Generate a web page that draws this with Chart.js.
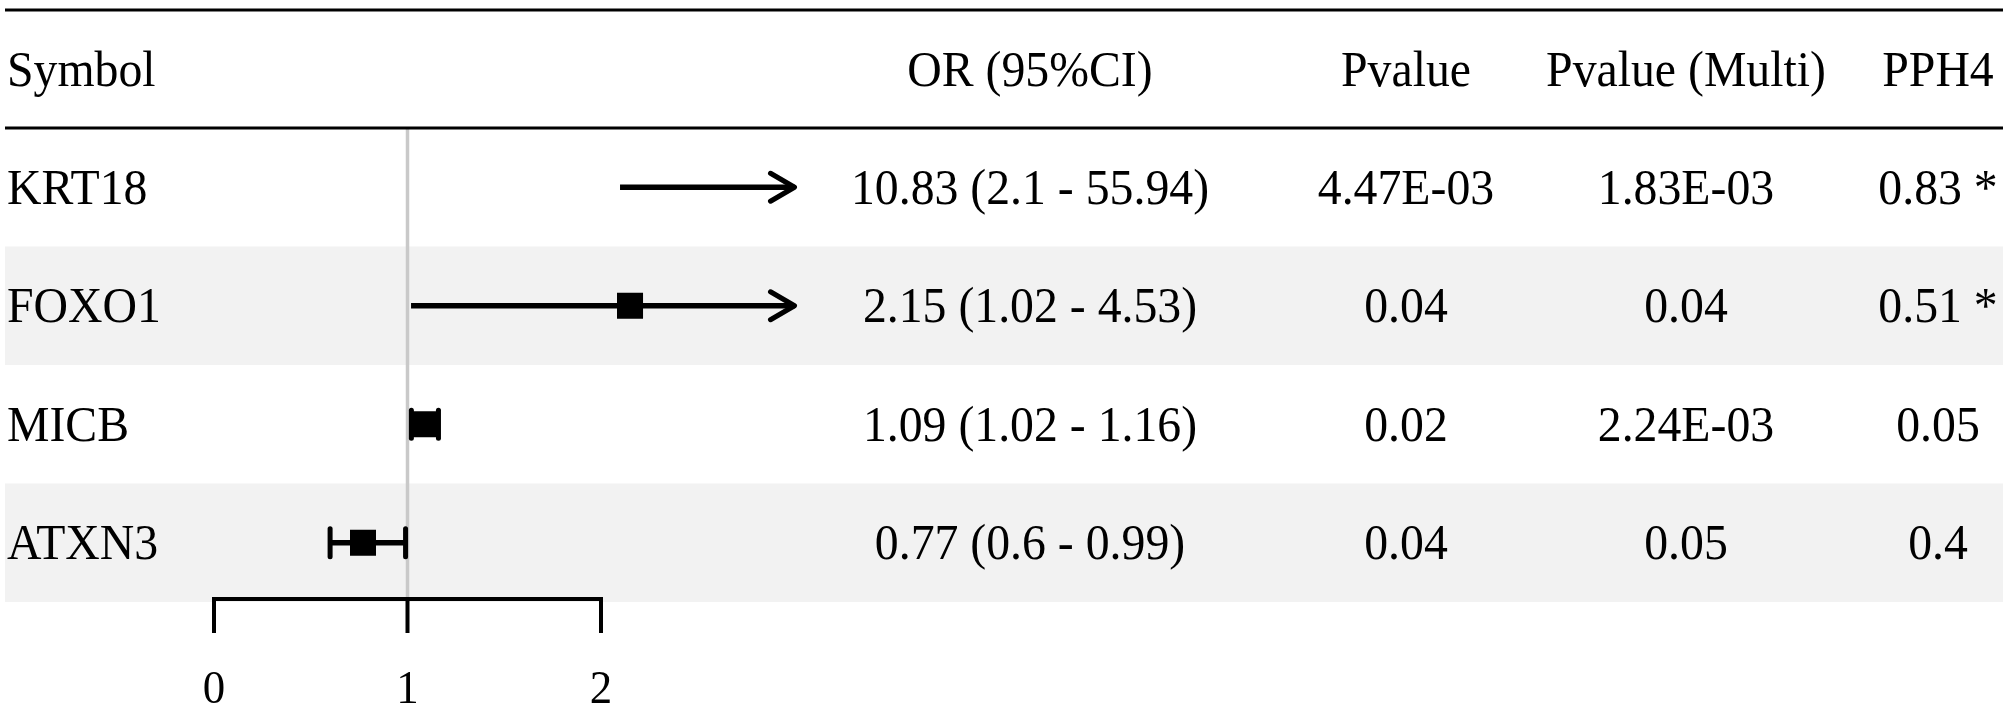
<!DOCTYPE html>
<html>
<head>
<meta charset="utf-8">
<script src="https://cdn.jsdelivr.net/npm/chart.js@4"></script>
<style>
  html, body { margin: 0; padding: 0; background: #fff; }
  canvas { display: block; }
</style>
</head>
<body>
<canvas id="forest" width="2008" height="708"></canvas>
<script>
const symbols = ["KRT18", "FOXO1", "MICB", "ATXN3"];
const orValues = [10.83, 2.15, 1.09, 0.77];
const ciLow = [2.1, 1.02, 1.02, 0.6];
const ciHigh = [55.94, 4.53, 1.16, 0.99];
const pValues = ["4.47E-03", "0.04", "0.02", "0.04"];
const pMulti = ["1.83E-03", "0.04", "2.24E-03", "0.05"];
const pph4 = ["0.83 *", "0.51 *", "0.05", "0.4"];
const headers = ["Symbol", "OR (95%CI)", "Pvalue", "Pvalue (Multi)", "PPH4"];
const xTicks = [0, 1, 2];
const xMin = 0, xMax = 3, refValue = 1;

const orLabels = orValues.map((v, i) => `${v} (${ciLow[i]} - ${ciHigh[i]})`);

const FONT = '50px "Liberation Serif"';
const SQUEEZE = 0.955;

function txt(ctx, s, x, y, align) {
  ctx.save();
  ctx.translate(x, y);
  ctx.scale(SQUEEZE, 1);
  ctx.textAlign = align;
  ctx.fillText(s, 0, 0);
  ctx.restore();
}

const tablePlugin = {
  id: "table",
  beforeDatasetsDraw(chart) {
    const ctx = chart.ctx;
    const xs = chart.scales.x, ys = chart.scales.y;
    ctx.save();
    // alternating row bands
    symbols.forEach((s, i) => {
      if (i % 2 === 1) {
        const t = ys.getPixelForValue(i - 0.5), b = ys.getPixelForValue(i + 0.5);
        ctx.fillStyle = "#f2f2f2";
        ctx.fillRect(5, t, 1998, b - t);
      }
    });
    // reference line at OR = 1
    const rx = xs.getPixelForValue(refValue);
    ctx.strokeStyle = "#c9c9c9";
    ctx.lineWidth = 3.5;
    ctx.beginPath();
    ctx.moveTo(rx, chart.chartArea.top);
    ctx.lineTo(rx, 599);
    ctx.stroke();
    ctx.restore();
  },
  afterDatasetsDraw(chart) {
    const ctx = chart.ctx;
    const xs = chart.scales.x, ys = chart.scales.y;
    ctx.save();
    ctx.strokeStyle = "#000";
    ctx.fillStyle = "#000";

    // whisker caps and arrows
    ctx.lineWidth = 5;
    ctx.lineCap = "round";
    ctx.lineJoin = "round";
    symbols.forEach((s, i) => {
      const y = ys.getPixelForValue(i);
      const over = ciHigh[i] > xMax, under = ciLow[i] < xMin;
      if (over) {
        const ax = xs.getPixelForValue(xMax);
        ctx.beginPath();
        ctx.moveTo(ax - 24, y - 14);
        ctx.lineTo(ax, y);
        ctx.lineTo(ax - 24, y + 14);
        ctx.stroke();
      }
      if (!over && !under) {
        [ciLow[i], ciHigh[i]].forEach(v => {
          const cx = xs.getPixelForValue(v);
          ctx.beginPath();
          ctx.moveTo(cx, y - 14);
          ctx.lineTo(cx, y + 14);
          ctx.stroke();
        });
      }
    });

    // table rules
    ctx.lineCap = "butt";
    ctx.lineWidth = 3;
    [10, chart.chartArea.top].forEach(yy => {
      ctx.beginPath();
      ctx.moveTo(5, yy);
      ctx.lineTo(2003, yy);
      ctx.stroke();
    });

    // x axis below the plot
    ctx.lineWidth = 4;
    ctx.lineCap = "square";
    const x0 = xs.getPixelForValue(xTicks[0]);
    const x1 = xs.getPixelForValue(xTicks[xTicks.length - 1]);
    ctx.beginPath();
    ctx.moveTo(x0, 599);
    ctx.lineTo(x1, 599);
    ctx.stroke();
    ctx.font = '47px "Liberation Serif"';
    xTicks.forEach(t => {
      const tx = xs.getPixelForValue(t);
      ctx.beginPath();
      ctx.moveTo(tx, 599);
      ctx.lineTo(tx, 631);
      ctx.stroke();
      txt(ctx, String(t), tx, 703, "center");
    });

    // header and cells
    ctx.font = FONT;
    ctx.textBaseline = "alphabetic";
    const colX = [7, 1030, 1406, 1686, 1938];
    const colAlign = ["left", "center", "center", "center", "center"];
    headers.forEach((h, c) => txt(ctx, h, colX[c], 86, colAlign[c]));
    const cols = [symbols, orLabels, pValues, pMulti, pph4];
    symbols.forEach((s, i) => {
      const base = ys.getPixelForValue(i) + 16.5;
      cols.forEach((col, c) => txt(ctx, col[i], colX[c], base, colAlign[c]));
    });
    ctx.restore();
  }
};

new Chart(document.getElementById("forest"), {
  type: "bar",
  data: {
    datasets: [
      {
        type: "bar",
        label: "95% CI",
        indexAxis: "y",
        data: symbols.map((s, i) => ({ x: [ciLow[i], ciHigh[i]], y: i })),
        backgroundColor: "#000",
        borderWidth: 0,
        barThickness: 5,
        clip: 0,
        order: 2
      },
      {
        type: "scatter",
        label: "OR",
        data: symbols.map((s, i) => ({ x: orValues[i], y: i })),
        pointStyle: "rect",
        pointRadius: 17,
        pointBackgroundColor: "#000",
        pointBorderColor: "#000",
        pointBorderWidth: 2,
        clip: 0,
        order: 1
      }
    ]
  },
  options: {
    responsive: false,
    animation: false,
    devicePixelRatio: 1,
    layout: { padding: { left: 214, right: 1213.5, top: 128, bottom: 106 } },
    scales: {
      x: { type: "linear", min: xMin, max: xMax, offset: false, display: false },
      y: { type: "linear", min: -0.5, max: 3.5, reverse: true, offset: false, display: false }
    },
    plugins: {
      legend: { display: false },
      title: { display: false },
      tooltip: { enabled: false }
    }
  },
  plugins: [tablePlugin]
});
</script>
</body>
</html>
